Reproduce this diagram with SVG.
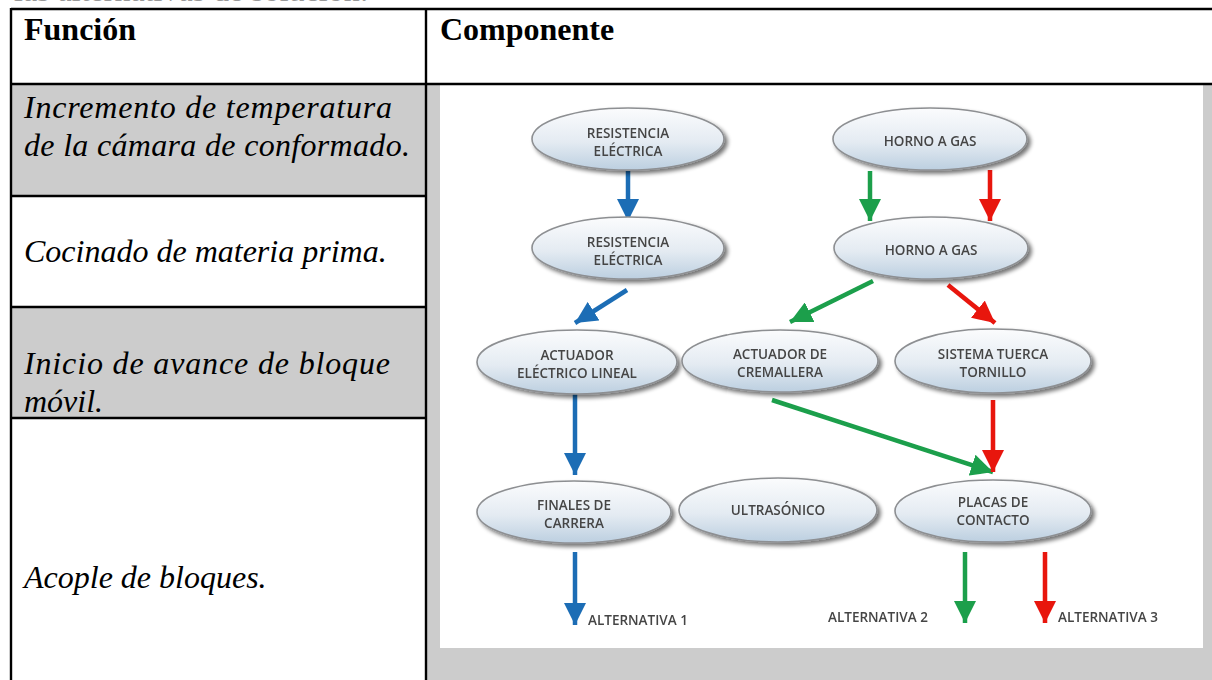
<svg xmlns="http://www.w3.org/2000/svg" width="1212" height="680" viewBox="0 0 1212 680">
  <defs>
    <linearGradient id="nodeFill" x1="0" y1="0" x2="0" y2="1">
      <stop offset="0" stop-color="#fbfcfd"/>
      <stop offset="0.55" stop-color="#e4ebf2"/>
      <stop offset="1" stop-color="#bccfe0"/>
    </linearGradient>
    <filter id="shadow" x="-20%" y="-30%" width="140%" height="170%">
      <feGaussianBlur in="SourceAlpha" stdDeviation="2.2"/>
      <feOffset dx="3" dy="3" result="b"/>
      <feComponentTransfer><feFuncA type="linear" slope="0.55"/></feComponentTransfer>
      <feMerge><feMergeNode/><feMergeNode in="SourceGraphic"/></feMerge>
    </filter>
    <filter id="soft" x="-5%" y="-5%" width="110%" height="110%">
      <feGaussianBlur stdDeviation="0.45"/>
    </filter>
    <marker id="headBlue" markerUnits="userSpaceOnUse" viewBox="0 0 22 22" refX="22" refY="11" markerWidth="22" markerHeight="22" orient="auto">
      <path d="M0,0 L22,11 L0,22 Z" fill="#1b6db5"/>
    </marker>
    <marker id="headGreen" markerUnits="userSpaceOnUse" viewBox="0 0 22 22" refX="22" refY="11" markerWidth="22" markerHeight="22" orient="auto">
      <path d="M0,0 L22,11 L0,22 Z" fill="#1a9f4b"/>
    </marker>
    <marker id="headRed" markerUnits="userSpaceOnUse" viewBox="0 0 22 22" refX="22" refY="11" markerWidth="22" markerHeight="22" orient="auto">
      <path d="M0,0 L22,11 L0,22 Z" fill="#e8140f"/>
    </marker>
  </defs>
  <style>
    .cellGray { fill: #cccccc; }
    .rule { stroke: #000; stroke-width: 2.4; fill: none; }
    .head { font-family: "Liberation Serif", "Times New Roman", serif; font-weight: bold; font-size: 32px; fill: #000; }
    .fn { font-family: "Liberation Serif", "Times New Roman", serif; font-style: italic; font-size: 32px; fill: #000; }
    .node ellipse { fill: url(#nodeFill); stroke: #8d8f92; stroke-width: 1.6; filter: url(#shadow); }
    .node text, .label { font-family: "Open Sans", "Liberation Sans", Arial, sans-serif; font-size: 13.5px; font-weight: 600; fill: #454545; text-anchor: middle; }
    .label { text-anchor: start; }
    .blue { stroke: #1b6db5; stroke-width: 4.5; fill: none; marker-end: url(#headBlue); }
    .green { stroke: #1a9f4b; stroke-width: 4.5; fill: none; marker-end: url(#headGreen); }
    .red { stroke: #e8140f; stroke-width: 4.5; fill: none; marker-end: url(#headRed); }
  </style>

  <rect x="0" y="0" width="1212" height="680" fill="#ffffff"/>

  <!-- caption line above the table, cut by the page edge -->
  <text x="14" y="1" class="fn" style="font-style:normal;fill:#999">las alternativas de solución:</text>

  <!-- table cell backgrounds -->
  <rect class="cellGray" x="11" y="84" width="415" height="112"/>
  <rect class="cellGray" x="11" y="307" width="415" height="111"/>
  <rect class="cellGray" x="426" y="84" width="786" height="596"/>
  <rect x="440" y="85" width="763" height="563" fill="#ffffff"/>

  <!-- table rules -->
  <g id="table-rules">
    <line class="rule" x1="11" y1="9" x2="1212" y2="9"/>
    <line class="rule" x1="11" y1="8" x2="11" y2="680"/>
    <line class="rule" x1="426" y1="8" x2="426" y2="680"/>
    <line class="rule" x1="11" y1="84" x2="1212" y2="84"/>
    <line class="rule" x1="11" y1="196" x2="426" y2="196"/>
    <line class="rule" x1="11" y1="307" x2="426" y2="307"/>
    <line class="rule" x1="11" y1="418" x2="426" y2="418"/>
  </g>

  <!-- header row -->
  <text class="head" x="24" y="40">Función</text>
  <text class="head" x="440" y="40">Componente</text>

  <!-- function column -->
  <text class="fn" x="24" y="118" textLength="368" lengthAdjust="spacing">Incremento de temperatura</text>
  <text class="fn" x="24" y="156" textLength="386" lengthAdjust="spacing">de la cámara de conformado.</text>
  <text class="fn" x="24" y="262">Cocinado de materia prima.</text>
  <text class="fn" x="24" y="374" textLength="366" lengthAdjust="spacing">Inicio de avance de bloque</text>
  <text class="fn" x="24" y="412">móvil.</text>
  <text class="fn" x="24" y="588">Acople de bloques.</text>

  <!-- morphological chart -->
  <g filter="url(#soft)">
    <g id="connectors">
      <line class="blue" x1="628" y1="171" x2="628" y2="221"/>
      <line class="green" x1="870" y1="171" x2="870" y2="221"/>
      <line class="red" x1="990" y1="170" x2="990" y2="221"/>
      <line class="blue" x1="627" y1="290" x2="575" y2="323"/>
      <line class="green" x1="873" y1="281" x2="790" y2="322"/>
      <line class="red" x1="948" y1="285" x2="995" y2="323"/>
      <line class="blue" x1="575" y1="394" x2="575" y2="475"/>
      <line class="green" x1="772" y1="400" x2="993" y2="472"/>
      <line class="red" x1="993" y1="400" x2="993" y2="472"/>
      <line class="blue" x1="575" y1="552" x2="575" y2="625"/>
      <line class="green" x1="965" y1="552" x2="965" y2="623"/>
      <line class="red" x1="1045" y1="552" x2="1045" y2="623"/>
    </g>

    <g id="node-resistencia-1" class="node">
      <ellipse cx="628" cy="139" rx="96" ry="31"/>
      <text x="628" y="138">RESISTENCIA</text>
      <text x="628" y="156">ELÉCTRICA</text>
    </g>
    <g id="node-horno-1" class="node">
      <ellipse cx="930" cy="139" rx="97" ry="31"/>
      <text x="930" y="146">HORNO A GAS</text>
    </g>
    <g id="node-resistencia-2" class="node">
      <ellipse cx="628" cy="248" rx="96" ry="31"/>
      <text x="628" y="247">RESISTENCIA</text>
      <text x="628" y="265">ELÉCTRICA</text>
    </g>
    <g id="node-horno-2" class="node">
      <ellipse cx="931" cy="248" rx="97" ry="31"/>
      <text x="931" y="255">HORNO A GAS</text>
    </g>
    <g id="node-actuador-lineal" class="node">
      <ellipse cx="577" cy="362" rx="100" ry="32"/>
      <text x="577" y="360">ACTUADOR</text>
      <text x="577" y="378">ELÉCTRICO LINEAL</text>
    </g>
    <g id="node-cremallera" class="node">
      <ellipse cx="780" cy="361" rx="98" ry="31"/>
      <text x="780" y="359">ACTUADOR DE</text>
      <text x="780" y="377">CREMALLERA</text>
    </g>
    <g id="node-tuerca" class="node">
      <ellipse cx="993" cy="361" rx="98" ry="32"/>
      <text x="993" y="359">SISTEMA TUERCA</text>
      <text x="993" y="377">TORNILLO</text>
    </g>
    <g id="node-finales" class="node">
      <ellipse cx="574" cy="512" rx="97" ry="31"/>
      <text x="574" y="510">FINALES DE</text>
      <text x="574" y="528">CARRERA</text>
    </g>
    <g id="node-ultrasonico" class="node">
      <ellipse cx="778" cy="510" rx="99" ry="32"/>
      <text x="778" y="515">ULTRASÓNICO</text>
    </g>
    <g id="node-placas" class="node">
      <ellipse cx="993" cy="511" rx="98" ry="31"/>
      <text x="993" y="507">PLACAS DE</text>
      <text x="993" y="525">CONTACTO</text>
    </g>

    <text class="label" x="588" y="625">ALTERNATIVA 1</text>
    <text class="label" x="828" y="622">ALTERNATIVA 2</text>
    <text class="label" x="1058" y="622">ALTERNATIVA 3</text>
  </g>
</svg>
